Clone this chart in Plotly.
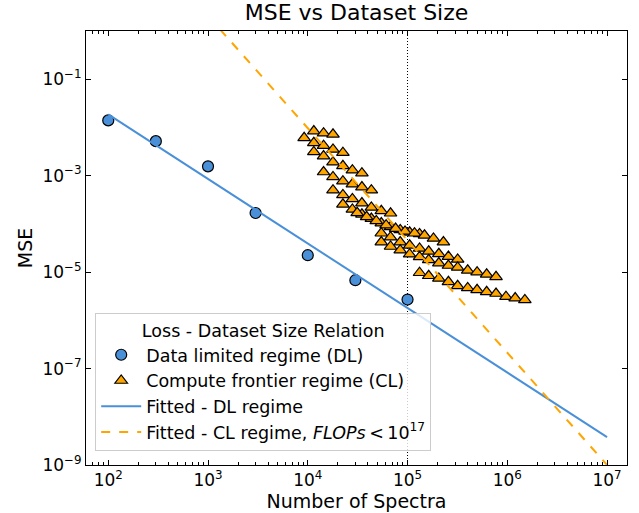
import plotly.graph_objects as go

# ---------------- data ----------------
# Data limited regime (DL)
dl_x = [1e2, 3e2, 1e3, 3e3, 1e4, 3e4, 1e5]
dl_y = [1.4e-2, 5.2e-3, 1.56e-3, 1.68e-4, 2.24e-5, 6.8e-6, 2.7e-6]

# Compute frontier regime (CL), grouped by rows
cl_rows_x = [
    [1.15e4, 1.44e4, 1.79e4],
    [9.2e3, 1.15e4, 1.44e4, 1.79e4, 2.25e4],
    [1.15e4, 1.44e4, 1.79e4, 2.25e4, 2.80e4, 3.49e4],
    [1.44e4, 1.79e4, 2.25e4, 2.80e4, 3.49e4, 4.34e4],
    [1.79e4, 2.25e4, 2.80e4, 3.49e4, 4.34e4, 5.46e4, 6.76e4],
    [2.25e4, 2.80e4, 3.49e4, 4.34e4, 5.46e4, 6.76e4, 8.45e4, 1.05e5, 1.32e5],
    [3.13e4, 3.89e4, 4.86e4, 6.10e4, 7.59e4, 9.44e4, 1.175e5, 1.48e5, 1.82e5, 2.29e5],
    [5.46e4, 6.76e4, 8.45e4, 1.05e5, 1.32e5, 1.63e5, 2.06e5, 2.57e5, 3.18e5],
    [5.46e4, 6.76e4, 8.45e4, 1.05e5, 1.32e5, 1.63e5, 2.06e5, 2.57e5, 3.18e5,
     4.01e5, 4.98e5, 6.21e5, 7.71e5],
    [1.32e5, 1.63e5, 2.06e5, 2.57e5, 3.18e5, 4.01e5, 4.98e5, 6.21e5, 7.71e5,
     9.70e5, 1.20e6, 1.50e6],
]
cl_rows_y = [
    [8.4e-3, 7.6e-3, 7.2e-3],
    [6.1e-3, 4.8e-3, 4.2e-3, 3.5e-3, 3.0e-3],
    [3.1e-3, 2.55e-3, 1.9e-3, 1.6e-3, 1.3e-3, 1.13e-3],
    [1.19e-3, 9.4e-4, 7.7e-4, 6.7e-4, 5.8e-4, 5.0e-4],
    [5.0e-4, 4.0e-4, 3.3e-4, 2.7e-4, 2.2e-4, 1.87e-4, 1.66e-4],
    [2.55e-4, 2.0e-4, 1.58e-4, 1.29e-4, 1.04e-4, 8.7e-5, 7.5e-5, 6.7e-5, 6.2e-5],
    [1.70e-4, 1.40e-4, 1.15e-4, 9.4e-5, 8.0e-5, 7.0e-5, 6.4e-5, 5.8e-5, 5.0e-5, 4.2e-5],
    [6.4e-5, 5.3e-5, 4.2e-5, 3.6e-5, 3.1e-5, 2.7e-5, 2.4e-5, 2.1e-5, 1.83e-5],
    [4.2e-5, 3.4e-5, 2.85e-5, 2.35e-5, 2.07e-5, 1.79e-5, 1.54e-5, 1.37e-5, 1.25e-5,
     1.09e-5, 1.0e-5, 9.0e-6, 8.0e-6],
    [9.7e-6, 8.4e-6, 7.4e-6, 6.3e-6, 5.2e-6, 4.7e-6, 4.3e-6, 3.9e-6, 3.6e-6,
     3.1e-6, 2.9e-6, 2.65e-6],
]

# Fitted lines (endpoints)
fit_dl_x = [1e2, 1e7]
fit_dl_y = [1.86e-2, 3.8e-9]
fit_cl_x = [1e3, 1e7]
fit_cl_y = [2.06, 1.0e-9]

# Vertical reference at 1e5
vline_x = [1e5, 1e5]
vline_y = [1e-9, 1e0]

x_tickvals = [1e2, 1e3, 1e4, 1e5, 1e6, 1e7]
x_ticktext = ["10<sup>2</sup>", "10<sup>3</sup>", "10<sup>4</sup>",
              "10<sup>5</sup>", "10<sup>6</sup>", "10<sup>7</sup>"]
y_tickvals = [1e-1, 1e-3, 1e-5, 1e-7, 1e-9]
y_ticktext = ["10<sup>\u22121</sup>", "10<sup>\u22123</sup>", "10<sup>\u22125</sup>",
              "10<sup>\u22127</sup>", "10<sup>\u22129</sup>"]

# ---------------- figure ----------------
BLUE = "#4a90d9"
ORANGE = "#ffa500"
FONT = "DejaVu Sans"

cl_x = [v for row in cl_rows_x for v in row]
cl_y = [v for row in cl_rows_y for v in row]

fig = go.Figure()
fig.add_trace(go.Scatter(x=vline_x, y=vline_y, mode="lines",
                         line=dict(color="black", width=1, dash="1px,2px"),
                         showlegend=False, hoverinfo="skip"))
fig.add_trace(go.Scatter(x=dl_x, y=dl_y, mode="markers",
                         name="Data limited regime (DL)",
                         marker=dict(symbol="circle", size=11, color=BLUE,
                                     line=dict(color="black", width=1.2))))
fig.add_trace(go.Scatter(x=cl_x, y=cl_y, mode="markers",
                         name="Compute frontier regime (CL)",
                         marker=dict(symbol="triangle-up", size=11, color=ORANGE,
                                     line=dict(color="black", width=1.2))))
fig.add_trace(go.Scatter(x=fit_dl_x, y=fit_dl_y, mode="lines",
                         name="Fitted - DL regime",
                         line=dict(color=BLUE, width=2)))
fig.add_trace(go.Scatter(x=fit_cl_x, y=fit_cl_y, mode="lines",
                         name="Fitted - CL regime, <i>FLOPs</i>\u2009&lt;\u200910<sup>17</sup>",
                         line=dict(color=ORANGE, width=2, dash="dash")))

minor_x = [m * 10 ** e for e in range(1, 8) for m in range(2, 10)]

fig.update_layout(
    width=639, height=513,
    margin=dict(l=86, r=12, t=31, b=48),
    paper_bgcolor="white", plot_bgcolor="white",
    font=dict(family=FONT, size=17, color="black"),
    title=dict(text="MSE vs Dataset Size", xref="paper", x=0.5, xanchor="center",
               y=1 - 12 / 513, yanchor="middle", font=dict(size=22)),
    legend=dict(x=0.017, y=0.35, xanchor="left", yanchor="top",
                bgcolor="rgba(255,255,255,0.8)", bordercolor="#cccccc",
                borderwidth=1, itemwidth=40, font=dict(size=17.5),
                title=dict(text="Loss - Dataset Size Relation", side="top center",
                           font=dict(size=17.5)),
                tracegroupgap=0),
    showlegend=True,
)
fig.update_xaxes(type="log", range=[1.777, 7.2], automargin=False,
                 tickmode="array", tickvals=x_tickvals, ticktext=x_ticktext,
                 ticks="inside", ticklen=5, tickwidth=1, tickcolor="black",
                 minor=dict(tickmode="array", tickvals=minor_x, ticks="inside",
                            ticklen=3, tickcolor="black", showgrid=False),
                 showline=True, linecolor="black", linewidth=1, mirror="ticks",
                 showgrid=False, zeroline=False,
                 title=dict(text="Number of Spectra", standoff=4, font=dict(size=19)),
                 tickfont=dict(size=17))
fig.update_yaxes(type="log", range=[-9, 0], automargin=False,
                 tickmode="array", tickvals=y_tickvals, ticktext=y_ticktext,
                 ticks="inside", ticklen=5, tickwidth=1, tickcolor="black",
                 showline=True, linecolor="black", linewidth=1, mirror="ticks",
                 showgrid=False, zeroline=False,
                 title=dict(text="MSE", standoff=4, font=dict(size=19)),
                 tickfont=dict(size=17))

# remove the page's default body margin so the figure fills the window exactly
fig.write_html("out.html",
               config={"displayModeBar": False},
               post_script="document.body.style.margin='0';"
                           "document.body.style.overflow='hidden';")
